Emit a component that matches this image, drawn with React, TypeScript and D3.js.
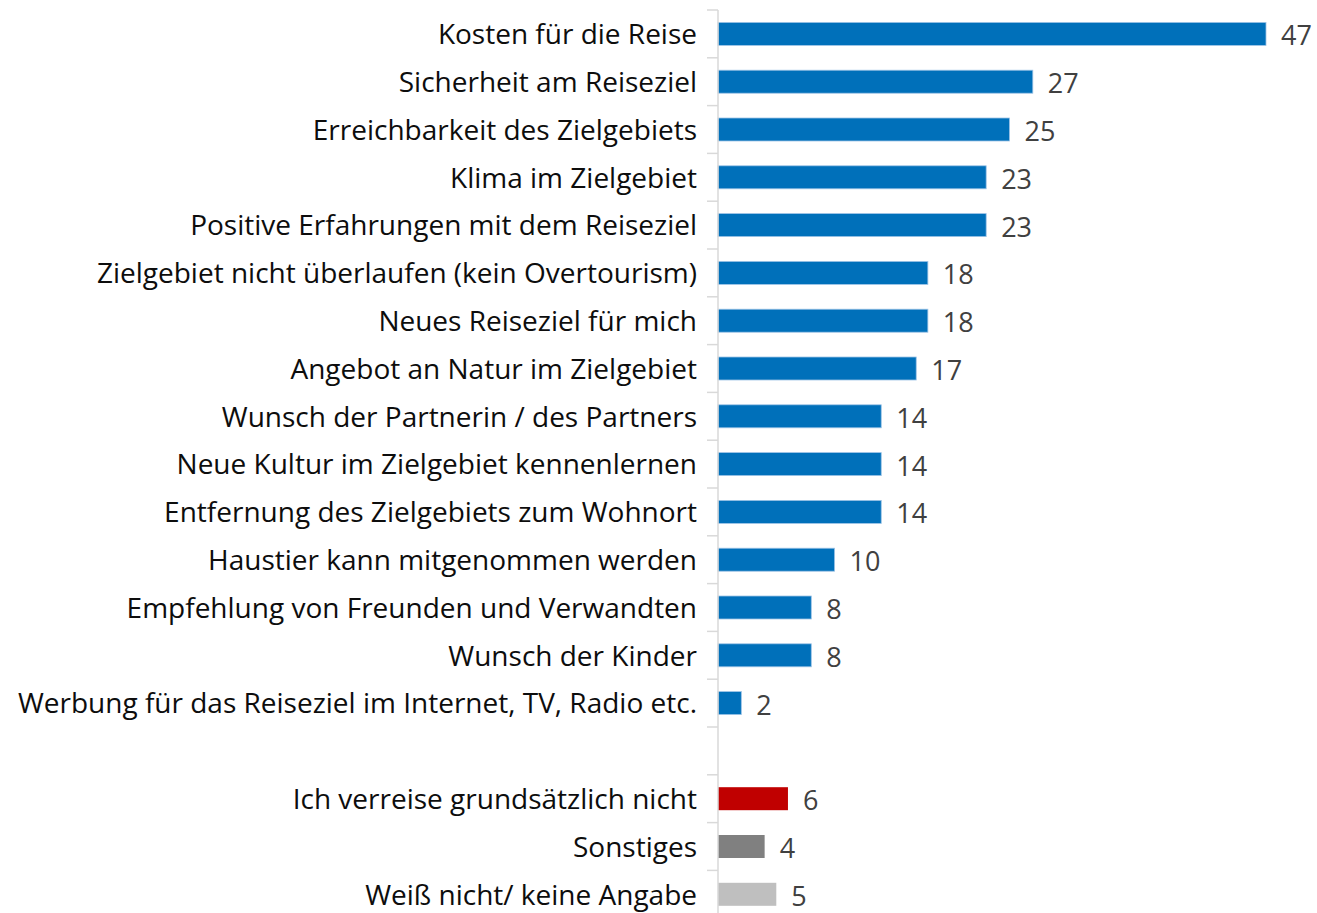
import React from "react";
import * as d3 from "d3";

const categories = [
  "Kosten für die Reise",
  "Sicherheit am Reiseziel",
  "Erreichbarkeit des Zielgebiets",
  "Klima im Zielgebiet",
  "Positive Erfahrungen mit dem Reiseziel",
  "Zielgebiet nicht überlaufen (kein Overtourism)",
  "Neues Reiseziel für mich",
  "Angebot an Natur im Zielgebiet",
  "Wunsch der Partnerin / des Partners",
  "Neue Kultur im Zielgebiet kennenlernen",
  "Entfernung des Zielgebiets zum Wohnort",
  "Haustier kann mitgenommen werden",
  "Empfehlung von Freunden und Verwandten",
  "Wunsch der Kinder",
  "Werbung für das Reiseziel im Internet, TV, Radio etc.",
  "",
  "Ich verreise grundsätzlich nicht",
  "Sonstiges",
  "Weiß nicht/ keine Angabe",
];
const values: (number | null)[] = [47, 27, 25, 23, 23, 18, 18, 17, 14, 14, 14, 10, 8, 8, 2, null, 6, 4, 5];
const colors = [
  "#0070BA", "#0070BA", "#0070BA", "#0070BA", "#0070BA", "#0070BA", "#0070BA", "#0070BA",
  "#0070BA", "#0070BA", "#0070BA", "#0070BA", "#0070BA", "#0070BA", "#0070BA", "none",
  "#C00000", "#808080", "#BFBFBF",
];

export default function App() {
  const W = 1317, H = 913;
  const axisX = 718;
  const top = 10;
  const slot = 47.8;
  const keys = categories.map((_, i) => String(i));
  const y = d3.scaleBand<string>().domain(keys).range([top, top + slot * keys.length]).padding(0);
  const x = d3.scaleLinear().domain([0, 47]).range([axisX, 1266]);
  const barH = 23;
  const font = "'Open Sans', sans-serif";
  return (
    <svg width={W} height={H} style={{ position: "absolute", left: 0, top: 0 }}>
      <rect width={W} height={H} fill="#fff" />
      {keys.map((k, i) => {
        const cy = (y(k) as number) + y.bandwidth() / 2;
        const v = values[i];
        return (
          <g key={k}>
            <text x={697} y={cy + 0.5} dy="0.35em" textAnchor="end" fontFamily={font} fontSize={28} fill="#0d0d0d">
              {categories[i]}
            </text>
            {v !== null && (
              <>
                <rect
                  x={x(0)}
                  y={cy - barH / 2}
                  width={x(v) - x(0)}
                  height={barH}
                  fill={colors[i]}
                  stroke={i < 15 ? "#9DC3E6" : "none"}
                  strokeWidth={0.8}
                />
                <text x={x(v) + 15} y={cy + 2} dy="0.35em" fontFamily={font} fontSize={27} fill="#404040">
                  {v}
                </text>
              </>
            )}
          </g>
        );
      })}
      {d3.range(keys.length + 1).map((i) => (
        <line key={"t" + i} x1={707} x2={axisX} y1={top + i * slot} y2={top + i * slot} stroke="#D9D9D9" strokeWidth={1.5} />
      ))}
      <line x1={axisX} x2={axisX} y1={top} y2={H} stroke="#D9D9D9" strokeWidth={1.5} />
    </svg>
  );
}
